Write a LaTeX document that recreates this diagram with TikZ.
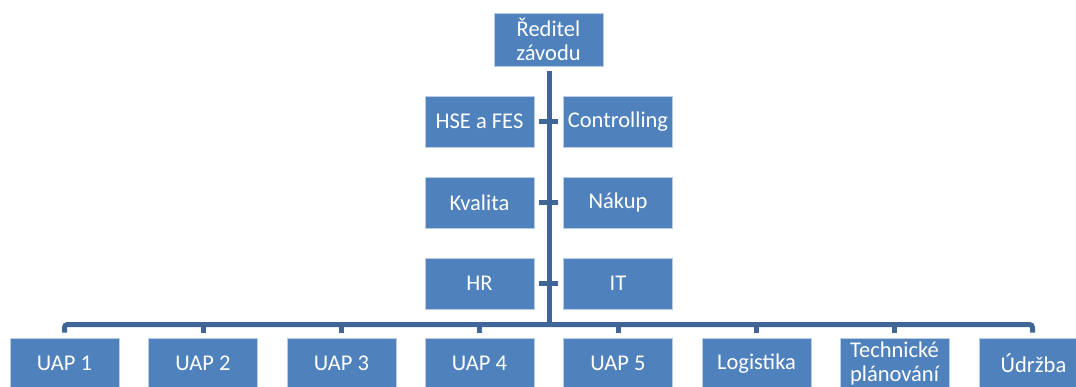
\documentclass[tikz,border=0pt]{standalone}
\usepackage{fontspec}
\setmainfont{Carlito}
\definecolor{boxblue}{RGB}{79,129,189}
\definecolor{boxedge}{RGB}{185,205,229}
\definecolor{linkblue}{RGB}{64,102,152}
\begin{document}
\begin{tikzpicture}[x=1pt,y=-1pt,
  unit/.style={rectangle, fill=boxblue, draw=boxedge, line width=0.8pt,
    minimum width=109pt, minimum height=51pt, inner sep=0pt,
    text=white, align=center, font=\fontsize{22.5}{24}\selectfont},
  link/.style={draw=linkblue, line width=5pt},
  bus/.style={draw=linkblue, line width=5pt, rounded corners=3pt}]
\useasboundingbox (0,0) rectangle (1076,386);
\clip (0,0) rectangle (1076,386);

% director
\node[unit, minimum height=53pt] (dir) at (548.5,39.5) {Ředitel\\závodu};

% staff departments
\node[unit] (hse)  at (479.5,121.5) {HSE a FES};
\node[unit] (ctrl) at (618,121.5)   {Controlling};
\node[unit] (kval) at (479.5,202.5) {Kvalita};
\node[unit] (nak)  at (618,202.5)   {Nákup};
\node[unit] (hr)   at (479.5,283.5) {HR};
\node[unit] (it)   at (618,283.5)   {IT};

% line departments
\node[unit] (u1)  at (64.5,363.5)  {UAP 1};
\node[unit] (u2)  at (203,363.5)   {UAP 2};
\node[unit] (u3)  at (341.5,363.5) {UAP 3};
\node[unit] (u4)  at (479.5,363.5) {UAP 4};
\node[unit] (u5)  at (618,363.5)   {UAP 5};
\node[unit] (log) at (756.5,363.5) {Logistika};
\node[unit] (tp)  at (894.5,363.5) {Technické\\plánování};
\node[unit] (udr) at (1033.5,363.5){Údržba};

% trunk and bus
\coordinate (busL) at (64.5,324.5);
\coordinate (busR) at (1032.5,324.5);
\coordinate (trunkTop) at (549,71);
\coordinate (trunkBot) at (549,324.5);
\draw[link] (trunkTop) -- (trunkBot);
\draw[bus] ([yshift=5pt]u1.north) -- (busL) -- (busR) -- ([yshift=5pt]udr.north -| busR);
\foreach \n in {u2,u3,u4,u5,log,tp}
  \draw[link] ([yshift=5pt]\n.north) -- (\n.north |- busL);

% staff ticks
\foreach \l/\r in {hse/ctrl,kval/nak,hr/it}
  \draw[link] ([xshift=5pt]\l.east) -- ([xshift=-5pt]\r.west);
\end{tikzpicture}
\end{document}
